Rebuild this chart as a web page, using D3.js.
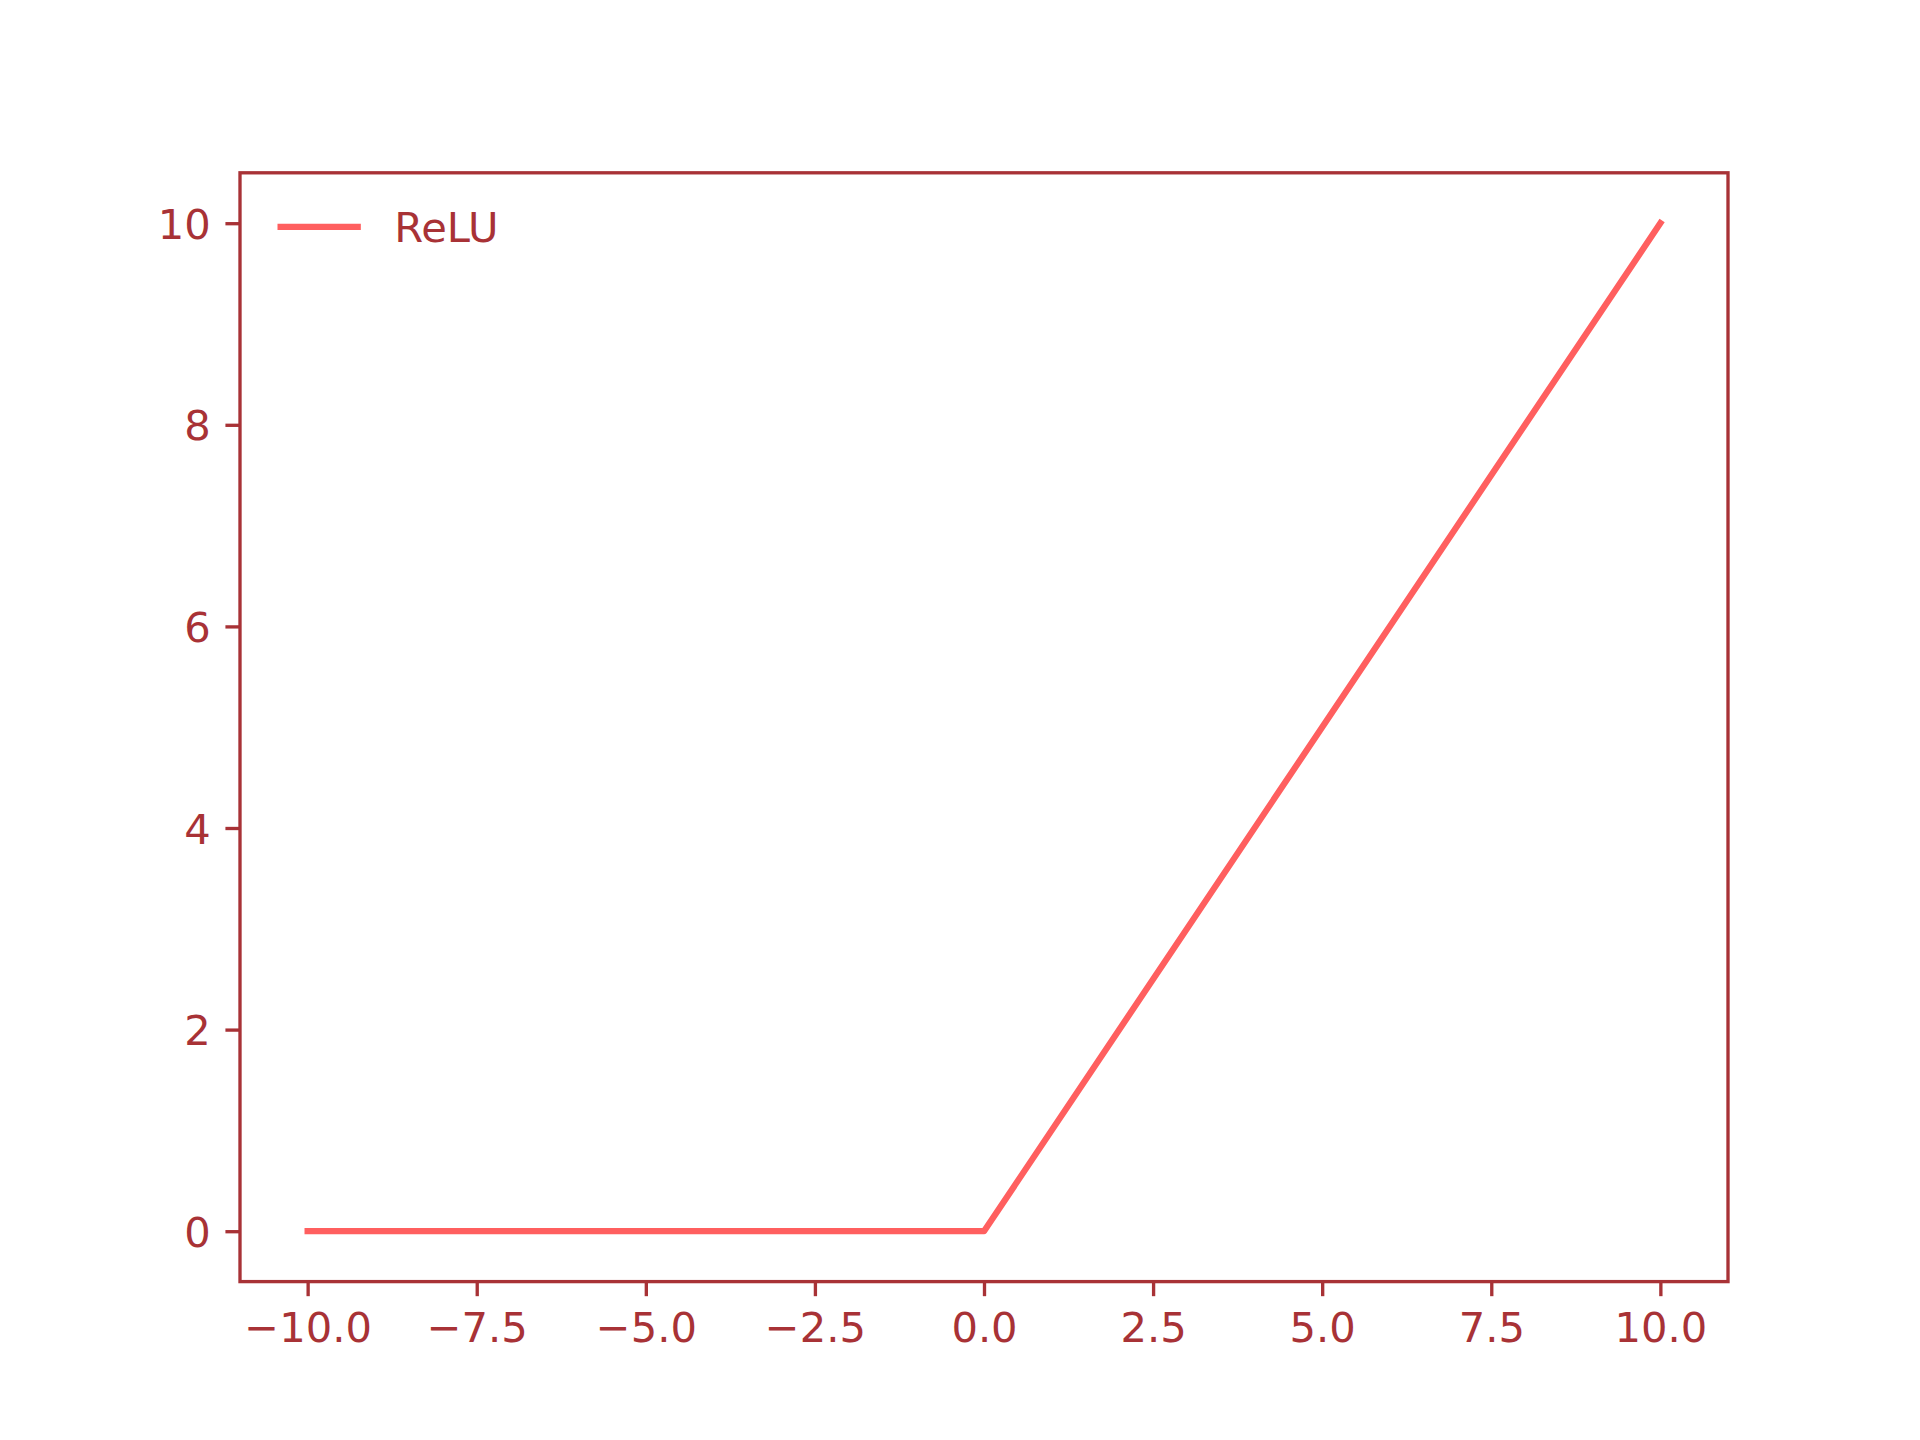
<!DOCTYPE html>
<html>
<head>
<meta charset="utf-8">
<script src="https://cdn.jsdelivr.net/npm/d3@7"></script>
<style>
  body { margin: 0; background: #fff; }
  svg text { font-family: "DejaVu Sans", sans-serif; }
</style>
</head>
<body>
<div id="chart"></div>
<script>
// ReLU breakpoints
var xValues = [-10, 0, 10];
var yValues = [0, 0, 10];
var xTicks = [-10, -7.5, -5, -2.5, 0, 2.5, 5, 7.5, 10];
var yTicks = [0, 2, 4, 6, 8, 10];
var seriesName = "ReLU";

var pt = 300 / 72;   // figure is 6.4x4.8 in at 300 dpi
var axisColor = "#a83236";
var lineColor = "#ff5f5f";
var fontSize = 10 * pt;

var W = 1920, H = 1440;
var margin = { top: 0.12 * H, right: 0.1 * W, bottom: 0.11 * H, left: 0.125 * W };
var width = W - margin.left - margin.right,
    height = H - margin.top - margin.bottom;

var svg = d3.select("#chart")
    .append("svg")
    .attr("width", W)
    .attr("height", H);

var g = svg.append("g")
    .attr("transform", "translate(" + margin.left + "," + margin.top + ")");

var x = d3.scaleLinear().domain([-11, 11]).range([0, width]);
var y = d3.scaleLinear().domain([-0.5, 10.5]).range([height, 0]);

function fmtX(d) { return d3.format(".1f")(d).replace("-", "\u2212"); }
function fmtY(d) { return d3.format("d")(d).replace("-", "\u2212"); }

// x axis
var xAxis = g.append("g")
    .attr("transform", "translate(0," + height + ")")
    .call(d3.axisBottom(x).tickValues(xTicks).tickFormat(fmtX)
        .tickSize(3.5 * pt).tickPadding(3.5 * pt));

// y axis
var yAxis = g.append("g")
    .call(d3.axisLeft(y).tickValues(yTicks).tickFormat(fmtY)
        .tickSize(3.5 * pt).tickPadding(3.5 * pt));

[xAxis, yAxis].forEach(function (ax) {
    ax.select(".domain").remove();
    ax.selectAll(".tick line")
        .attr("stroke", axisColor)
        .attr("stroke-width", 0.8 * pt);
    ax.selectAll(".tick text")
        .attr("fill", axisColor)
        .style("font-size", fontSize + "px");
});
xAxis.selectAll(".tick text").attr("dy", "0.76em");
yAxis.selectAll(".tick text").attr("dy", "0.36em");

// the line
var data = xValues.map(function (d, i) { return { x: d, y: yValues[i] }; });
var line = d3.line()
    .x(function (d) { return x(d.x); })
    .y(function (d) { return y(d.y); });

g.append("path")
    .datum(data)
    .attr("d", line)
    .attr("fill", "none")
    .attr("stroke", lineColor)
    .attr("stroke-width", 1.5 * pt)
    .attr("stroke-linecap", "square")
    .attr("stroke-linejoin", "round");

// frame
g.append("rect")
    .attr("x", 0)
    .attr("y", 0)
    .attr("width", width)
    .attr("height", height)
    .attr("fill", "none")
    .attr("stroke", axisColor)
    .attr("stroke-width", 0.8 * pt);

// legend, upper left
var lx = 0.5 * fontSize + 0.4 * fontSize,
    ly = 1.3 * fontSize;
var legend = g.append("g");
legend.append("line")
    .attr("x1", lx)
    .attr("x2", lx + 2 * fontSize)
    .attr("y1", ly)
    .attr("y2", ly)
    .attr("stroke", lineColor)
    .attr("stroke-width", 1.5 * pt)
    .attr("stroke-linecap", "butt");
legend.append("text")
    .attr("x", lx + 2.8 * fontSize)
    .attr("y", ly)
    .attr("dy", "0.36em")
    .attr("fill", axisColor)
    .style("font-size", fontSize + "px")
    .text(seriesName);
</script>
</body>
</html>
